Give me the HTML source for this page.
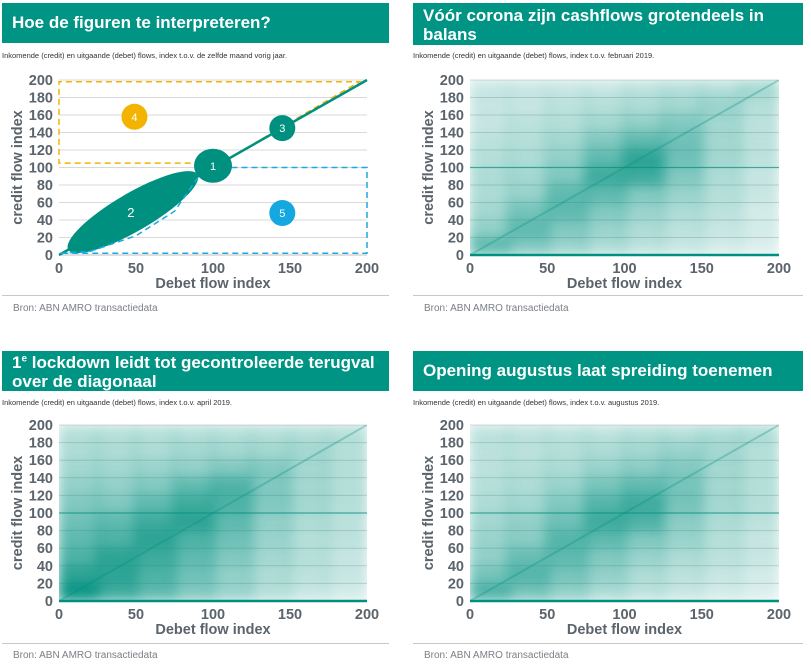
<!DOCTYPE html>
<html><head><meta charset="utf-8">
<style>
body{margin:0;width:811px;height:666px;background:#fff;font-family:"Liberation Sans",sans-serif;position:relative;overflow:hidden}
.hdr{position:absolute;background:#009485;color:#fff;font-weight:bold;font-size:17px;line-height:19px;padding:3px 10px;box-sizing:border-box;overflow:hidden}
.sub{position:absolute;font-size:7.5px;color:#333}
.src{position:absolute;font-size:10px;color:#7a7f86}
.sep{position:absolute;height:1px;background:#c8c8c8}
svg{position:absolute;left:0;top:0}
</style></head><body>
<div class="hdr" style="left:2px;top:3px;width:387px;height:40px;line-height:34px">Hoe de figuren te interpreteren?</div>
<div class="hdr" style="left:413px;top:3px;width:390px;height:42px">Vóór corona zijn cashflows grotendeels in balans</div>
<div class="hdr" style="left:2px;top:351px;width:387px;height:40px;padding-top:2px">1<sup style="font-size:10px;line-height:0">e</sup> lockdown leidt tot gecontroleerde terugval over de diagonaal</div>
<div class="hdr" style="left:413px;top:351px;width:390px;height:40px;line-height:34px">Opening augustus laat spreiding toenemen</div>
<div class="sub" style="left:2px;top:51px">Inkomende (credit) en uitgaande (debet) flows, index t.o.v. de zelfde maand vorig jaar.</div>
<div class="sub" style="left:413px;top:51px">Inkomende (credit) en uitgaande (debet) flows, index t.o.v. februari 2019.</div>
<div class="sub" style="left:2px;top:398px">Inkomende (credit) en uitgaande (debet) flows, index t.o.v. april 2019.</div>
<div class="sub" style="left:413px;top:398px">Inkomende (credit) en uitgaande (debet) flows, index t.o.v. augustus 2019.</div>
<div class="sep" style="left:2px;top:295px;width:387px"></div>
<div class="sep" style="left:413px;top:295px;width:390px"></div>
<div class="sep" style="left:2px;top:643px;width:387px"></div>
<div class="sep" style="left:413px;top:643px;width:390px"></div>
<div class="src" style="left:13px;top:303px">Bron: ABN AMRO transactiedata</div>
<div class="src" style="left:424px;top:303px">Bron: ABN AMRO transactiedata</div>
<div class="src" style="left:13px;top:650px">Bron: ABN AMRO transactiedata</div>
<div class="src" style="left:424px;top:650px">Bron: ABN AMRO transactiedata</div>
<svg id="s" width="811" height="666">
<defs><filter id="bl" x="-5%" y="-5%" width="110%" height="110%"><feGaussianBlur stdDeviation="6" edgeMode="duplicate"/></filter></defs>
</svg>
<script>
const yTicks=[0,20,40,60,80,100,120,140,160,180,200];
const xTicks=[0,50,100,150,200];
const xBins=[0,25,50,75,100,125,150,175];
const yBins=[180,160,140,120,100,80,60,40,20,0];
const densFeb=[
[.15,.15,.15,.15,.18,.2,.2,.25],
[.15,.15,.18,.2,.22,.25,.28,.2],
[.15,.18,.2,.25,.3,.35,.25,.18],
[.18,.2,.25,.35,.45,.4,.25,.18],
[.2,.22,.3,.45,.6,.4,.25,.18],
[.22,.25,.35,.55,.55,.35,.22,.15],
[.22,.28,.45,.45,.35,.28,.2,.15],
[.25,.38,.45,.35,.28,.22,.18,.12],
[.3,.45,.35,.28,.22,.18,.15,.12],
[.45,.35,.28,.22,.18,.15,.12,.1]];
const densApr=[
[.2,.2,.2,.2,.2,.2,.2,.2],
[.22,.22,.22,.25,.25,.25,.25,.2],
[.25,.25,.28,.3,.35,.35,.25,.2],
[.3,.3,.35,.45,.5,.35,.25,.2],
[.35,.35,.45,.55,.5,.35,.25,.2],
[.4,.45,.55,.6,.45,.3,.22,.18],
[.45,.5,.6,.5,.4,.28,.2,.18],
[.5,.6,.55,.45,.35,.25,.2,.15],
[.6,.6,.5,.4,.3,.22,.18,.15],
[.7,.55,.45,.35,.28,.2,.15,.12]];
const densAug=[
[.18,.18,.18,.18,.2,.2,.22,.22],
[.18,.18,.2,.22,.25,.28,.25,.2],
[.18,.2,.22,.28,.32,.35,.25,.2],
[.2,.22,.28,.38,.45,.38,.25,.2],
[.22,.25,.35,.48,.55,.38,.25,.2],
[.25,.3,.4,.55,.5,.32,.22,.18],
[.28,.32,.48,.45,.35,.28,.2,.15],
[.3,.42,.45,.35,.28,.22,.18,.15],
[.38,.48,.38,.3,.22,.18,.15,.12],
[.5,.38,.3,.22,.18,.15,.12,.1]];
const diag=[[0,0],[200,200]];
const svg=document.getElementById('s');
const NS='http://www.w3.org/2000/svg';
function mk(t,a,p){const e=document.createElementNS(NS,t);for(const k in a)e.setAttribute(k,a[k]);(p||svg).appendChild(e);return e;}
const TEAL='#00907f',GR='#5b636b';
function panel(id,x0,x1,y0,y1,dens){
  const sx=v=>x0+(x1-x0)*v/200, sy=v=>y0-(y0-y1)*v/200;
  const g=mk('g',{});
  
  
  yTicks.forEach(t=>{
    if(t>0){const l=mk('line',{x1:x0,x2:x1,y1:sy(t),y2:sy(t),stroke:'#d9d9d9','stroke-width':1},g);
    }
    const tx=mk('text',{x:x0-6,y:sy(t)+5,'text-anchor':'end','font-size':14.5,'font-weight':'bold',fill:GR},g);
    tx.textContent=t;
  });
  xTicks.forEach(t=>{
    const tx=mk('text',{x:sx(t),y:y0+18,'text-anchor':'middle','font-size':14.5,'font-weight':'bold',fill:GR},g);
    tx.textContent=t;
  });
  const xt=mk('text',{x:(x0+x1)/2,y:y0+33,'text-anchor':'middle','font-size':14.5,'font-weight':'bold',fill:GR},g);
  xt.textContent='Debet flow  index';
  const yc=(y0+y1)/2;
  const yt=mk('text',{x:x0-37,y:yc,'text-anchor':'middle','font-size':14.5,'font-weight':'bold',fill:GR,transform:`rotate(-90 ${x0-37} ${yc})`},g);
  yt.textContent='credit flow  index';
  if(dens){
    const cid='c'+id;const cp=mk('clipPath',{id:cid},g);mk('rect',{x:x0,y:y1,width:x1-x0,height:y0-y1},cp);
    const cg=mk('g',{'clip-path':`url(#${cid})`},g);
    const hg=mk('g',{filter:'url(#bl)'},cg);
    yBins.forEach((yb,r)=>xBins.forEach((xb,c)=>{
      const cell=mk('rect',{x:sx(xb)-1,y:sy(yb+20)-1,width:sx(xb+25)-sx(xb)+2,height:sy(yb)-sy(yb+20)+2,fill:TEAL,'fill-opacity':Math.min(1,dens[r][c]*1.35)},hg);
      
    }));
    const d=mk('line',{x1:sx(diag[0][0]),y1:sy(diag[0][1]),x2:sx(diag[1][0]),y2:sy(diag[1][1]),stroke:TEAL,'stroke-width':2,'stroke-opacity':.3},cg);
    
    const h=mk('line',{x1:x0,x2:x1,y1:sy(100),y2:sy(100),stroke:TEAL,'stroke-width':1.2,'stroke-opacity':.6},cg);
    
    const b=mk('line',{x1:x0,x2:x1,y1:y0,y2:y0,stroke:TEAL,'stroke-width':2.5},g);
    
  } else {
    const b=mk('line',{x1:x0,x2:x1,y1:y0,y2:y0,stroke:'#bfbfbf','stroke-width':1},g);
    
  }
  return {g,sx,sy};
}
const p=panel('explainer-chart',59,367,255,80,null);
const P=(a)=>a.map(q=>p.sx(q[0])+','+p.sy(q[1])).join(' ');
const yel=mk('polyline',{points:P([[105,105],[0,105],[0,198],[195,198],[105,105]]),fill:'none',stroke:'#f2b400','stroke-width':1.5,'stroke-dasharray':'6 4'},p.g);

const dl=mk('line',{x1:p.sx(0),y1:p.sy(0),x2:p.sx(200),y2:p.sy(200),stroke:TEAL,'stroke-width':2.5},p.g);

const cx2=(p.sx(6)+p.sx(90))/2,cy2=(p.sy(6)+p.sy(92))/2;
const ang=Math.atan2(p.sy(6)-p.sy(92),p.sx(90)-p.sx(6))*180/Math.PI;
const len=Math.hypot(p.sx(90)-p.sx(6),p.sy(6)-p.sy(92))/2;
const el=mk('ellipse',{cx:cx2,cy:cy2,rx:len,ry:19,fill:TEAL,transform:`rotate(${-ang} ${cx2} ${cy2})`},p.g);

const blu=mk('polyline',{points:P([[112,100],[200,100],[200,2],[0,2],[20,4],[50,22],[75,50],[90,88]]),fill:'none',stroke:'#1aa9e3','stroke-width':1.5,'stroke-dasharray':'6 4'},p.g);

const marks=[[100,102,19,17,TEAL,'1'],[145,145,13,13,TEAL,'3'],[49,158,13,13,'#f2b400','4'],[145,48,13,13,'#14a7e0','5']];
marks.forEach(m=>{
  const c=mk('ellipse',{cx:p.sx(m[0]),cy:p.sy(m[1]),rx:m[2],ry:m[3],fill:m[4]},p.g);
  
  const t=mk('text',{x:p.sx(m[0]),y:p.sy(m[1])+4,'text-anchor':'middle','font-size':11,fill:'#fff'},p.g);
  t.textContent=m[5];
});
const t2=mk('text',{x:cx2-2,y:cy2+5,'text-anchor':'middle','font-size':13,fill:'#fff'},p.g);
t2.textContent='2';
panel('feb-scatter',470,779,255,80,densFeb);
panel('apr-scatter',59,367,601,425,densApr);
panel('aug-scatter',470,779,601,425,densAug);
</script>
</body></html>
